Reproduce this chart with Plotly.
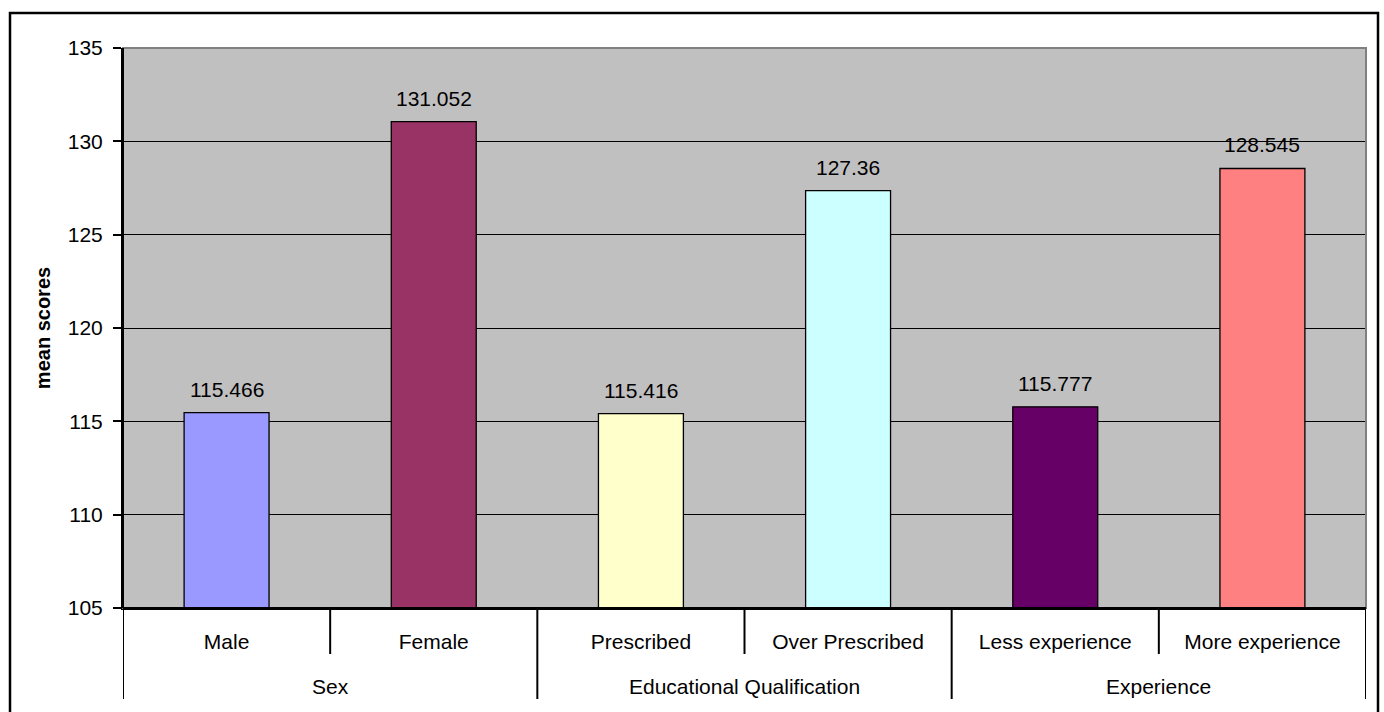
import plotly.graph_objects as go

groups = ["Sex", "Educational Qualification", "Experience"]
subcats = ["Male", "Female", "Prescribed", "Over Prescribed", "Less experience", "More experience"]
values = [115.466, 131.052, 115.416, 127.36, 115.777, 128.545]
labels = ["115.466", "131.052", "115.416", "127.36", "115.777", "128.545"]
colors = ["#9999FF", "#993366", "#FFFFCC", "#CCFFFF", "#660066", "#FF8080"]
y_ticks = [105, 110, 115, 120, 125, 130, 135]

FONT = "Arial, Liberation Sans, sans-serif"
FS = 21
PLOT_H = 560.0

fig = go.Figure(go.Bar(
    x=subcats,
    y=values,
    base=0,
    marker=dict(color=colors, line=dict(color="black", width=1.3)),
))

annotations = []
# data labels above bars
for c, v, t in zip(subcats, values, labels):
    annotations.append(dict(x=c, y=v, xref="x", yref="y", text=t, showarrow=False,
                            yanchor="bottom", yshift=10,
                            font=dict(family=FONT, size=FS, color="black")))
# group labels under the axis
for i, g in enumerate(groups):
    annotations.append(dict(x=2 * i + 0.5, y=-(686 - 608) / PLOT_H, xref="x", yref="paper",
                            text=g, showarrow=False, yanchor="middle",
                            font=dict(family=FONT, size=FS, color="black")))

shapes = [
    dict(type="rect", xref="paper", yref="paper", x0=0, x1=1, y0=0, y1=1,
         line=dict(color="#808080", width=2), fillcolor="rgba(0,0,0,0)", layer="above"),
    dict(type="line", xref="paper", yref="paper", x0=0, x1=0, y0=0, y1=1,
         line=dict(color="black", width=2), layer="above"),
    dict(type="line", xref="paper", yref="paper", x0=0, x1=1, y0=0, y1=0,
         line=dict(color="black", width=2), layer="above"),
    dict(type="rect", xref="paper", yref="paper",
         x0=-113 / 1243, x1=1 + 12 / 1243, y0=-110 / PLOT_H, y1=1 + 35 / PLOT_H,
         line=dict(color="black", width=2.5), fillcolor="rgba(0,0,0,0)"),
]
# short ticks between sub-categories within a group
for i in range(len(groups)):
    shapes.append(dict(type="line", xref="x", yref="paper", x0=2 * i + 0.5, x1=2 * i + 0.5,
                       y0=0, y1=-46 / PLOT_H, line=dict(color="black", width=2)))
# long dividers between groups
for i in range(len(groups) + 1):
    shapes.append(dict(type="line", xref="x", yref="paper", x0=2 * i - 0.5, x1=2 * i - 0.5,
                       y0=0, y1=-91 / PLOT_H, line=dict(color="black", width=2)))

fig.update_layout(
    width=1384, height=712,
    margin=dict(l=123, r=18, t=48, b=104),
    paper_bgcolor="white",
    plot_bgcolor="#C0C0C0",
    bargap=0.59,
    showlegend=False,
    font=dict(family=FONT, size=FS, color="black"),
    xaxis=dict(
        type="category",
        range=[-0.5, 5.5],
        showline=True, linecolor="black", linewidth=2,
        ticks="", ticklabelstandoff=14,
        tickfont=dict(family=FONT, size=FS, color="black"),
        showgrid=False,
    ),
    yaxis=dict(
        range=[105, 135],
        tickvals=y_ticks,
        ticks="outside", ticklen=8, tickcolor="black", tickwidth=2,
        ticklabelstandoff=6,
        showline=True, linecolor="black", linewidth=2,
        gridcolor="black", gridwidth=1.3,
        tickfont=dict(family=FONT, size=FS, color="black"),
        title=dict(text="<b>mean scores</b>", font=dict(family=FONT, size=20, color="black"), standoff=12),
        zeroline=False,
    ),
    shapes=shapes,
    annotations=annotations,
)

fig.write_html("out.html")
